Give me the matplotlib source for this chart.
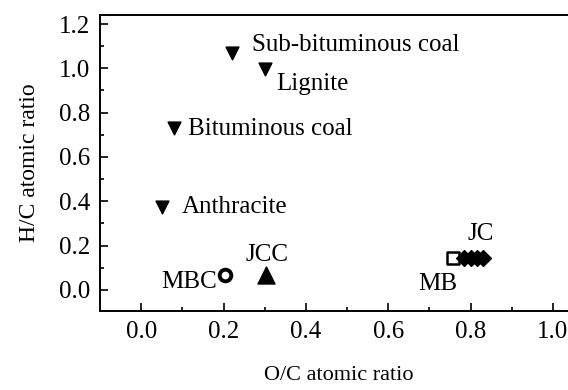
import matplotlib
matplotlib.use("Agg")
import matplotlib.pyplot as plt
from matplotlib.ticker import FormatStrFormatter

plt.rcParams["font.family"] = ["Liberation Serif", "DejaVu Serif"]

# coal references (down triangles)
coal_names = ["Sub-bituminous coal", "Lignite", "Bituminous coal", "Anthracite"]
coal_oc = [0.22, 0.30, 0.08, 0.05]
coal_hc = [1.07, 0.995, 0.73, 0.375]

# samples
mbc_oc, mbc_hc = [0.204], [0.068]
jcc_oc, jcc_hc = [0.303], [0.068]
mb_oc, mb_hc = [0.757], [0.145]
jc_oc = [0.785, 0.800, 0.815, 0.830]
jc_hc = [0.145, 0.145, 0.145, 0.145]

fig = plt.figure(figsize=(5.68, 3.9), dpi=100)
ax = fig.add_axes([0.176, 0.203, 0.870, 0.758])

ax.scatter(coal_oc, coal_hc, marker="v", s=85, color="black", zorder=3)
ax.scatter(mbc_oc, mbc_hc, marker="o", s=70, facecolors="white",
           edgecolors="black", linewidths=2.8, zorder=3)
ax.scatter(jcc_oc, jcc_hc, marker="^", s=150, color="black", zorder=3)
ax.scatter(mb_oc, mb_hc, marker="s", s=75, facecolors="white",
           edgecolors="black", linewidths=1.8, zorder=3)
ax.scatter(jc_oc, jc_hc, marker="D", s=65, color="black", zorder=3)

fs = 18
ax.text(0.268, 1.105, coal_names[0], fontsize=fs, va="center", ha="left")
ax.text(0.329, 0.93, coal_names[1], fontsize=fs, va="center", ha="left")
ax.text(0.113, 0.725, coal_names[2], fontsize=fs, va="center", ha="left")
ax.text(0.098, 0.375, coal_names[3], fontsize=fs, va="center", ha="left")
ax.text(0.306, 0.155, "JCC", fontsize=fs, va="center", ha="center")
ax.text(0.183, 0.035, "MBC", fontsize=fs, va="center", ha="right")
ax.text(0.824, 0.25, "JC", fontsize=fs, va="center", ha="center")
ax.text(0.768, 0.025, "MB", fontsize=fs, va="center", ha="right")

ax.set_xlim(-0.1, 1.1)
ax.set_ylim(-0.095, 1.24)
ax.set_xticks([0.0, 0.2, 0.4, 0.6, 0.8, 1.0])
ax.set_yticks([0.0, 0.2, 0.4, 0.6, 0.8, 1.0, 1.2])
ax.set_xticks([0.1, 0.3, 0.5, 0.7, 0.9], minor=True)
ax.set_yticks([0.1, 0.3, 0.5, 0.7, 0.9, 1.1], minor=True)
ax.xaxis.set_major_formatter(FormatStrFormatter("%.1f"))
ax.yaxis.set_major_formatter(FormatStrFormatter("%.1f"))
ax.tick_params(which="both", direction="in", top=False, right=False,
               labelsize=fs, width=1.2)
ax.tick_params(which="major", length=6, pad=7)
ax.tick_params(which="minor", length=3)
for sp in ax.spines.values():
    sp.set_linewidth(1.4)

ax.set_xlabel("O/C atomic ratio", fontsize=16)
ax.xaxis.set_label_coords(0.484, -0.185)
ax.set_ylabel("H/C atomic ratio", fontsize=17, labelpad=14)

fig.savefig("out.png", dpi=100)
